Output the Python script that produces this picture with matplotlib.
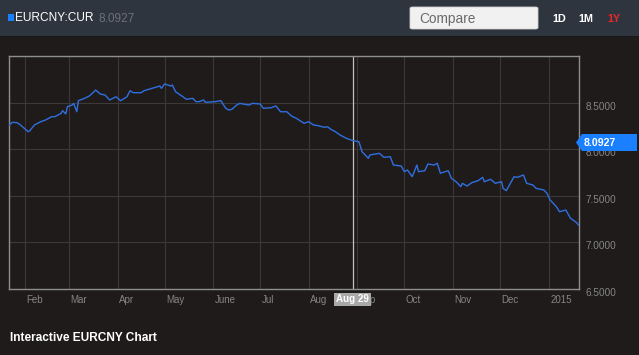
import matplotlib
matplotlib.use("Agg")
import matplotlib.pyplot as plt
import matplotlib.transforms as mtransforms
from matplotlib.patches import Rectangle, FancyBboxPatch, Polygon
import pandas as pd

plt.rcParams["font.family"] = ["Liberation Sans", "DejaVu Sans"]

W, H = 639, 355

# EUR/CNY closes (approximate)
dates = [
    "2014-01-22", "2014-01-24", "2014-01-27", "2014-01-29", "2014-02-03", "2014-02-04",
    "2014-02-07", "2014-02-11", "2014-02-14", "2014-02-18", "2014-02-20", "2014-02-24",
    "2014-02-25", "2014-02-27", "2014-02-28", "2014-03-03", "2014-03-04", "2014-03-06",
    "2014-03-07", "2014-03-11", "2014-03-14", "2014-03-17", "2014-03-18", "2014-03-21",
    "2014-03-24", "2014-03-27", "2014-03-31", "2014-04-03", "2014-04-07", "2014-04-09",
    "2014-04-11", "2014-04-16", "2014-04-18", "2014-04-23", "2014-04-28", "2014-04-29",
    "2014-05-01", "2014-05-05", "2014-05-06", "2014-05-08", "2014-05-12", "2014-05-15",
    "2014-05-19", "2014-05-21", "2014-05-23", "2014-05-26", "2014-05-27", "2014-06-02",
    "2014-06-06", "2014-06-09", "2014-06-11", "2014-06-13", "2014-06-16", "2014-06-18",
    "2014-06-20", "2014-06-24", "2014-06-26", "2014-07-01", "2014-07-03", "2014-07-08",
    "2014-07-11", "2014-07-14", "2014-07-18", "2014-07-21", "2014-07-24", "2014-07-29",
    "2014-08-01", "2014-08-04", "2014-08-07", "2014-08-11", "2014-08-13", "2014-08-15",
    "2014-08-18", "2014-08-21", "2014-08-25", "2014-08-29", "2014-09-02", "2014-09-04",
    "2014-09-08", "2014-09-09", "2014-09-15", "2014-09-18", "2014-09-22", "2014-09-24",
    "2014-09-29", "2014-10-01", "2014-10-03", "2014-10-06", "2014-10-09", "2014-10-10",
    "2014-10-14", "2014-10-16", "2014-10-20", "2014-10-22", "2014-10-24", "2014-10-27",
    "2014-10-29", "2014-10-31", "2014-11-03", "2014-11-06", "2014-11-07", "2014-11-10",
    "2014-11-13", "2014-11-17", "2014-11-20", "2014-11-21", "2014-11-25", "2014-11-28",
    "2014-12-02", "2014-12-03", "2014-12-05", "2014-12-10", "2014-12-12", "2014-12-16",
    "2014-12-18", "2014-12-22", "2014-12-24", "2014-12-29", "2014-12-31", "2015-01-02",
    "2015-01-06", "2015-01-08", "2015-01-12", "2015-01-15", "2015-01-19", "2015-01-20",
]
rates = [
    8.260, 8.289, 8.284, 8.260, 8.188, 8.198,
    8.260, 8.295, 8.313, 8.349, 8.349, 8.385,
    8.413, 8.378, 8.456, 8.474, 8.492, 8.402,
    8.520, 8.546, 8.571, 8.617, 8.635, 8.592,
    8.582, 8.528, 8.563, 8.520, 8.563, 8.628,
    8.606, 8.606, 8.628, 8.653, 8.678, 8.653,
    8.700, 8.678, 8.689, 8.617, 8.571, 8.535,
    8.546, 8.510, 8.510, 8.528, 8.503, 8.510,
    8.520, 8.439, 8.421, 8.428, 8.474, 8.492,
    8.485, 8.474, 8.492, 8.485, 8.439, 8.445,
    8.464, 8.402, 8.402, 8.356, 8.332, 8.278,
    8.295, 8.260, 8.252, 8.235, 8.241, 8.214,
    8.188, 8.152, 8.117, 8.0927, 8.080, 7.973,
    7.902, 7.938, 7.956, 7.913, 7.920, 7.830,
    7.820, 7.759, 7.777, 7.705, 7.830, 7.759,
    7.769, 7.841, 7.830, 7.849, 7.741, 7.759,
    7.769, 7.688, 7.651, 7.598, 7.634, 7.605,
    7.641, 7.662, 7.698, 7.651, 7.677, 7.634,
    7.651, 7.580, 7.555, 7.705, 7.698, 7.723,
    7.634, 7.616, 7.580, 7.562, 7.527, 7.455,
    7.383, 7.329, 7.348, 7.259, 7.211, 7.187,
]

month_ticks = ["2014-02-01", "2014-03-01", "2014-04-01", "2014-05-01", "2014-06-01",
               "2014-07-01", "2014-08-01", "2014-09-01", "2014-10-01", "2014-11-01",
               "2014-12-01", "2015-01-01"]
month_labels = ["Feb", "Mar", "Apr", "May", "June", "Jul", "Aug", "Sep", "Oct", "Nov",
                "Dec", "2015"]
y_ticks = [6.5, 7.0, 7.5, 8.0, 8.5]
y_labels = ["6.5000", "7.0000", "7.5000", "8.0000", "8.5000"]

ticker = "EURCNY:CUR"
last_quote = "8.0927"
hover_date = "2014-08-29"
hover_label = "Aug 29"
hover_value = "8.0927"
ranges = ["1D", "1M", "1Y"]
title = "Interactive EURCNY Chart"

BG = "#1f1b1b"
BAR = "#2e353f"
LINE = "#2f6fe0"
GRID = "#3e3939"
BORDER = "#8e8e8e"
TICK = "#858585"
TAG = "#1a80ff"


def px(x, y):
    """pixel position (from top-left) -> figure fraction"""
    return x / W, 1 - y / H


fig = plt.figure(figsize=(W / 100, H / 100), dpi=100, facecolor=BG)

# header bar
fig.patches.append(Rectangle(px(0, 36), 1, 36 / H, transform=fig.transFigure,
                             facecolor=BAR, edgecolor="none"))
fig.patches.append(Rectangle(px(0, 37), 1, 1.5 / H, transform=fig.transFigure,
                             facecolor="#15181c", edgecolor="none"))
fig.patches.append(Rectangle(px(8, 20.5), 6 / W, 6.5 / H, transform=fig.transFigure,
                             facecolor=TAG, edgecolor="none"))
fig.text(*px(15, 18), ticker, color="white", fontsize=8.6, va="center", ha="left")
fig.text(*px(99, 18.5), last_quote, color="#6b7078", fontsize=8.6, va="center", ha="left")
x0, y0 = px(410, 29)
fig.patches.append(FancyBboxPatch((x0, y0), 128 / W, 22 / H,
                                  boxstyle="round,pad=0,rounding_size=0.004",
                                  transform=fig.transFigure,
                                  facecolor="#f1f1f1", edgecolor="#d0d0d0", lw=0.6))
fig.text(*px(419, 18.5), "Compare", color="#6a6a6a", fontsize=9.8, va="center", ha="left")
for lbl, xpos in zip(ranges, [552, 578, 607]):
    fig.text(*px(xpos, 18.5), lbl, color="#e8282a" if lbl == "1Y" else "white",
             fontsize=7.8, fontweight="bold", va="center", ha="left")

fig.text(*px(10, 338), title, color="white", fontsize=8.6, fontweight="bold",
         va="center", ha="left")

# main plot
ax = fig.add_axes([9 / W, 1 - 289 / H, 570 / W, 233 / H])
ax.set_facecolor(BG)
ax.plot(pd.to_datetime(dates), rates, color=LINE, lw=1.0, zorder=3)
ax.set_xlim(pd.Timestamp("2014-01-21 18:00"), pd.Timestamp("2015-01-20 10:00"))
ax.set_ylim(6.5, 9.0)

ax.set_xticks(pd.to_datetime(month_ticks))
ax.set_xticklabels(month_labels)
ax.set_yticks(y_ticks)
ax.set_yticklabels(y_labels)
ax.yaxis.tick_right()
ax.tick_params(axis="x", length=0, pad=4.5, labelsize=7, labelcolor=TICK)
ax.tick_params(axis="y", length=0, pad=4.5, labelsize=7.2, labelcolor=TICK)
shift_x = mtransforms.ScaledTranslation(0.015, 0, fig.dpi_scale_trans)
for lbl in ax.get_xticklabels():
    lbl.set_ha("left")
    lbl.set_transform(lbl.get_transform() + shift_x)
shift_y = mtransforms.ScaledTranslation(0, -0.03, fig.dpi_scale_trans)
for lbl in ax.get_yticklabels():
    lbl.set_transform(lbl.get_transform() + shift_y)

ax.grid(color=GRID, lw=0.8, zorder=0)
for sp in ax.spines.values():
    sp.set_color(BORDER)
    sp.set_linewidth(1.0)

# hover crosshair + date label
hx = pd.Timestamp(hover_date)
ax.axvline(hx, color="#c2c2c2", lw=0.9, zorder=2)
blend = mtransforms.blended_transform_factory(ax.transData, ax.transAxes)
ax.text(hx, -0.045, hover_label, transform=blend, ha="center", va="center",
        color="white", fontsize=7, fontweight="bold", zorder=5, clip_on=False,
        bbox=dict(boxstyle="square,pad=0.18", facecolor="#a9a9a9", edgecolor="none"))

# value tag on the right
tag = [px(576, 142.5), px(582, 134), px(637, 134), px(637, 151), px(582, 151)]
fig.patches.append(Polygon(tag, closed=True, transform=fig.transFigure,
                           facecolor=TAG, edgecolor="none"))
fig.text(*px(584, 143), hover_value, color="white", fontsize=7.6, fontweight="bold",
         va="center", ha="left")

fig.savefig("out.png", dpi=100, facecolor=BG)
